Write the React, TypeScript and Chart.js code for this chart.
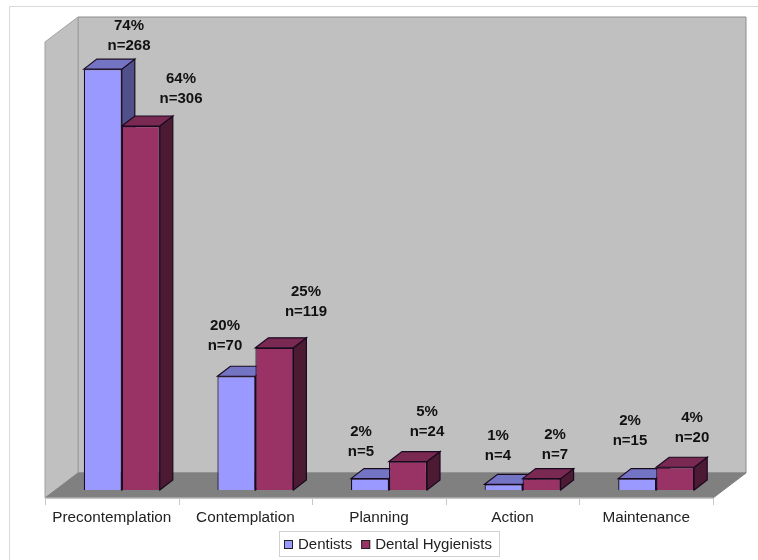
import React, { useEffect, useRef } from "react";
import { Chart, registerables } from "chart.js";

Chart.register(...registerables);

const stages = ["Precontemplation", "Contemplation", "Planning", "Action", "Maintenance"];
const dentistPercent = [74, 20, 2, 1, 2];
const hygienistPercent = [64, 25, 5, 2, 4];
const dentistCounts = [268, 70, 5, 4, 15];
const hygienistCounts = [306, 119, 24, 7, 20];

// Hand-placed annotation centres for each pair of stacked text lines.
const dentistLabelSpots = [[129, 26], [225, 326], [361, 432], [498, 436], [630, 421]];
const hygienistLabelSpots = [[181, 79], [306, 292], [427, 412], [555, 435], [692, 418]];

const FONT = '"Liberation Sans", Arial, sans-serif';
const DEPTH_X = 13;
const DEPTH_Y = 10;

function poly(ctx: CanvasRenderingContext2D, pts: number[][], fill: string, stroke: string, lw = 1) {
  ctx.beginPath();
  pts.forEach(([x, y], i) => (i ? ctx.lineTo(x, y) : ctx.moveTo(x, y)));
  ctx.closePath();
  ctx.fillStyle = fill;
  ctx.fill();
  ctx.strokeStyle = stroke;
  ctx.lineWidth = lw;
  ctx.stroke();
}

const room = {
  id: "room",
  beforeDatasetsDraw(chart: any) {
    const { ctx, chartArea, scales } = chart;
    const frontL = chartArea.left - 10;
    const frontR = chartArea.right - 10;
    const frontB = chartArea.bottom + 8;
    const frontT = 42;
    const dx = 33;
    const dy = 25;
    ctx.save();
    // outer frame line
    ctx.strokeStyle = "#d9d9d9";
    ctx.lineWidth = 1;
    ctx.beginPath();
    ctx.moveTo(9.5, 560);
    ctx.lineTo(9.5, 6.5);
    ctx.lineTo(758, 6.5);
    ctx.stroke();
    // back wall
    poly(ctx, [[frontL + dx, frontT - dy], [frontR + dx, frontT - dy], [frontR + dx, frontB - dy], [frontL + dx, frontB - dy]], "#c0c0c0", "#8c8c8c");
    // side wall
    poly(ctx, [[frontL, frontT], [frontL + dx, frontT - dy], [frontL + dx, frontB - dy], [frontL, frontB]], "#c0c0c0", "#a0a0a0");
    // floor
    poly(ctx, [[frontL, frontB], [frontL + dx, frontB - dy], [frontR + dx, frontB - dy], [frontR, frontB]], "#808080", "#808080");
    // tick marks along the front floor edge
    ctx.strokeStyle = "#c8c8c8";
    ctx.beginPath();
    ctx.moveTo(frontL, frontB);
    ctx.lineTo(frontR, frontB);
    const band = (frontR - frontL) / stages.length;
    for (let i = 0; i <= stages.length; i++) {
      const x = Math.round(frontL + band * i) + 0.5;
      ctx.moveTo(x, frontB);
      ctx.lineTo(x, frontB + 7);
    }
    ctx.stroke();
    // depth faces of the bars, drawn series by series so later ones overlap earlier ones
    const faceColors = [
      { top: "#7474c4", side: "#50508a" },
      { top: "#7a2952", side: "#4d1a33" },
    ];
    const y0 = scales.y.getPixelForValue(0);
    for (let c = 0; c < stages.length; c++) {
      chart.data.datasets.forEach((_: any, d: number) => {
        const bar = chart.getDatasetMeta(d).data[c];
        const half = bar.width / 2;
        const l = bar.x - half;
        const r = bar.x + half;
        const t = bar.y;
        poly(ctx, [[r, y0], [r + DEPTH_X, y0 - DEPTH_Y], [r + DEPTH_X, t - DEPTH_Y], [r, t]], faceColors[d].side, "#1a0a20", 1.2);
        poly(ctx, [[l, t], [l + DEPTH_X, t - DEPTH_Y], [r + DEPTH_X, t - DEPTH_Y], [r, t]], faceColors[d].top, "#1a0a20", 1.2);
      });
    }
    ctx.restore();
  },
  afterDraw(chart: any) {
    const { ctx } = chart;
    ctx.save();
    // bar annotations: percentage over respondent count
    ctx.font = `bold 15px ${FONT}`;
    ctx.fillStyle = "#111";
    ctx.textAlign = "center";
    ctx.textBaseline = "middle";
    const write = (spots: number[][], pct: number[], n: number[]) =>
      spots.forEach(([x, y], i) => {
        ctx.fillText(`${pct[i]}%`, x, y);
        ctx.fillText(`n=${n[i]}`, x, y + 20);
      });
    write(dentistLabelSpots, dentistPercent, dentistCounts);
    write(hygienistLabelSpots, hygienistPercent, hygienistCounts);

    // legend box
    const lx = 279, ly = 531, lw = 221, lh = 26;
    ctx.fillStyle = "#fff";
    ctx.strokeStyle = "#d0d0d0";
    ctx.lineWidth = 1;
    ctx.fillRect(lx, ly, lw, lh);
    ctx.strokeRect(lx + 0.5, ly + 0.5, lw - 1, lh - 1);
    ctx.font = `15px ${FONT}`;
    ctx.textAlign = "left";
    let x = lx + 5;
    chart.data.datasets.forEach((ds: any) => {
      ctx.fillStyle = ds.backgroundColor;
      ctx.strokeStyle = "#222";
      ctx.fillRect(x, ly + 9, 9, 9);
      ctx.strokeRect(x + 0.5, ly + 9.5, 8, 8);
      ctx.fillStyle = "#222";
      ctx.fillText(ds.label, x + 14, ly + 14);
      x += 14 + ctx.measureText(ds.label).width + 9;
    });
    ctx.restore();
  },
};

export default function App() {
  const ref = useRef<HTMLCanvasElement>(null);
  useEffect(() => {
    const chart = new Chart(ref.current!, {
      type: "bar",
      data: {
        labels: stages,
        datasets: [
          { label: "Dentists", data: dentistPercent, backgroundColor: "#9999ff", borderColor: "#1a0a20", borderWidth: 1.2 },
          { label: "Dental Hygienists", data: hygienistPercent, backgroundColor: "#993366", borderColor: "#1a0a20", borderWidth: 1.2 },
        ],
      },
      options: {
        responsive: false,
        animation: false,
        layout: { padding: { left: 55, right: 35, top: 35, bottom: 0 } },
        plugins: { legend: { display: false }, tooltip: { enabled: false } },
        datasets: { bar: { barPercentage: 1, categoryPercentage: 0.569 } },
        scales: {
          x: {
            grid: { display: false },
            border: { display: false },
            afterFit: (s: any) => { s.height = 70; },
            ticks: { labelOffset: -10, padding: 11, maxRotation: 0, autoSkip: false, color: "#222", font: { family: FONT, size: 15.3 } },
          },
          y: { display: false, min: 0, max: 80 },
        },
      },
      plugins: [room],
    } as any);
    return () => chart.destroy();
  }, []);
  return (
    <canvas
      ref={ref}
      width={758}
      height={560}
      style={{ position: "fixed", left: 0, top: 0, width: 758, height: 560, background: "#fff" }}
    />
  );
}
